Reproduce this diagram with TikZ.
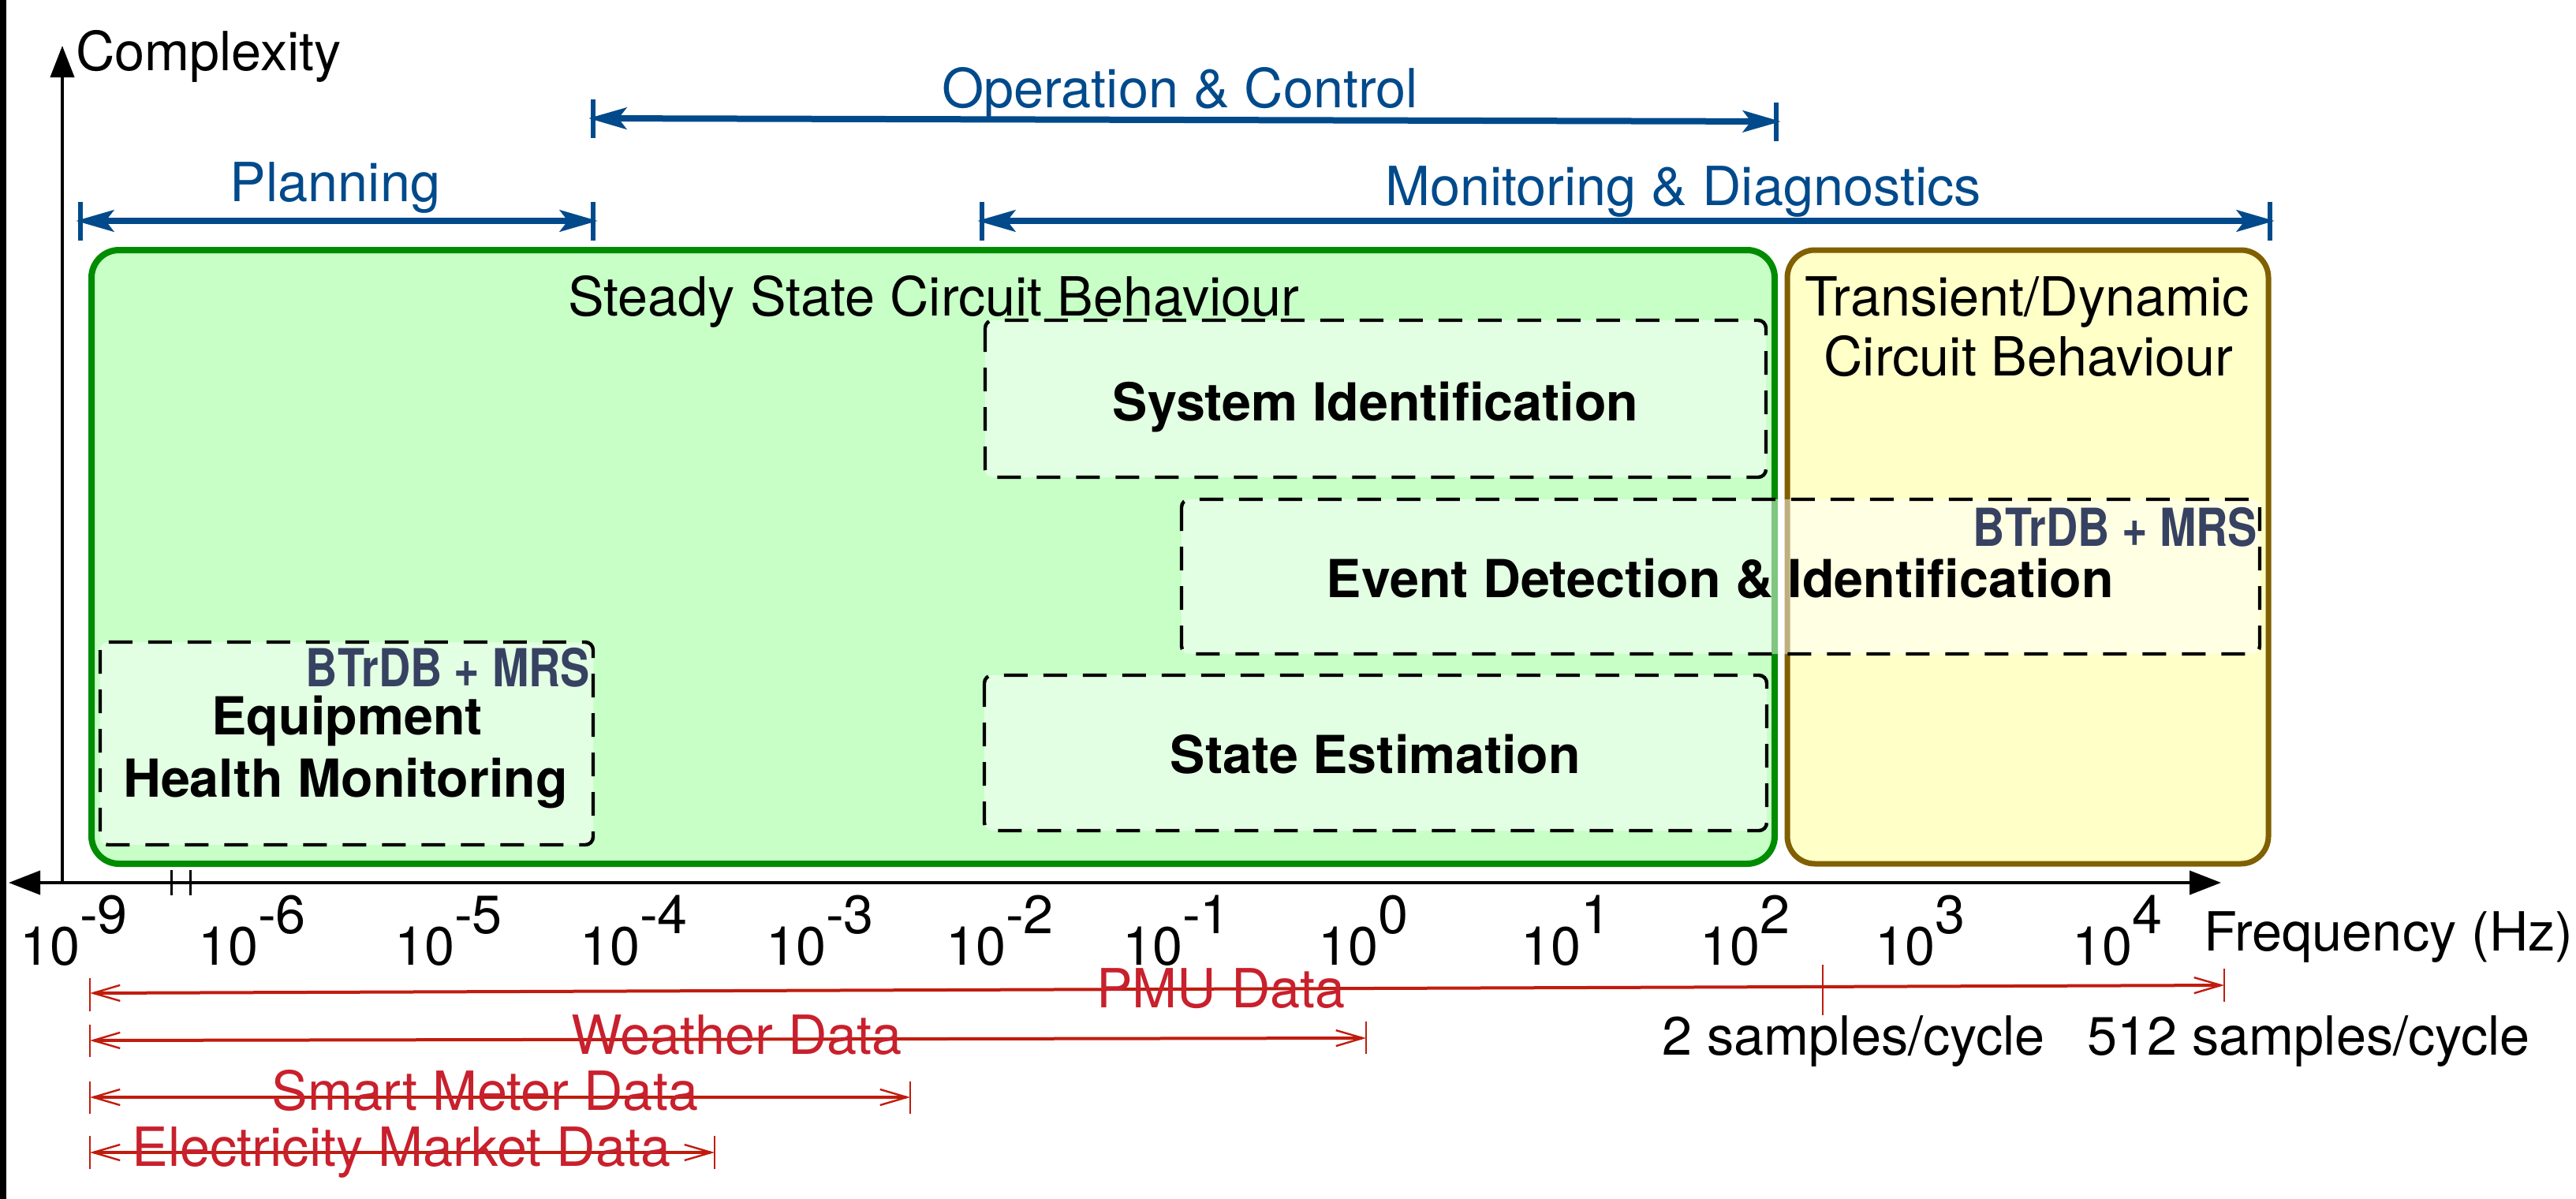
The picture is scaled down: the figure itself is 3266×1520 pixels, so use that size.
\documentclass[tikz,border=0pt]{standalone}
\usepackage{fontspec}
\setmainfont{TeX Gyre Heros}
\newfontfamily\condfont[FakeStretch=0.84]{TeX Gyre Heros}
\usetikzlibrary{arrows.meta}
\definecolor{ablue}{RGB}{0,74,139}
\definecolor{redline}{RGB}{192,28,14}
\definecolor{redtext}{RGB}{200,32,44}
\definecolor{gstroke}{RGB}{0,140,0}
\definecolor{gfill}{RGB}{199,255,199}
\definecolor{bstroke}{RGB}{128,96,0}
\definecolor{yfill}{RGB}{255,255,200}
\definecolor{btr}{RGB}{55,66,98}
\begin{document}
\begin{tikzpicture}[x=0.25pt,y=-0.25pt,
  every node/.style={inner sep=0pt,outer sep=0pt,font=\fontsize{17.1}{20}\selectfont},
  axisline/.style={black,line width=1pt},
  bluearr/.style={ablue,line width=2pt,{Stealth[length=12pt,width=6.75pt,inset=2.5pt]}-{Stealth[length=12pt,width=6.75pt,inset=2.5pt]}},
  bluebar/.style={ablue,line width=1.5pt},
  bluelbl/.style={anchor=base,text=ablue},
  redarr/.style={redline,line width=1pt,{Straight Barb[length=8.5pt,width=5pt,line width=0.6pt]}-{Straight Barb[length=8.5pt,width=5pt,line width=0.6pt]}},
  redbar/.style={redline,line width=0.6pt},
  redlbl/.style={anchor=base,text=redtext},
  gbox/.style={draw=gstroke,fill=gfill,line width=2pt,rounded corners=8.75pt},
  ybox/.style={draw=bstroke,fill=yfill,line width=1.75pt,rounded corners=8.75pt},
  dbox/.style={draw=black,line width=1.1pt,dash pattern=on 7.5pt off 5pt,rounded corners=2.5pt,fill=white,fill opacity=0.5},
  boldlbl/.style={anchor=base,font=\fontsize{16.6}{20}\selectfont\bfseries},
  btrlbl/.style={anchor=base east,text=btr,font=\fontsize{16.6}{20}\selectfont\condfont\bfseries},
  plainlbl/.style={anchor=base},
  ticklbl/.style={anchor=base west}
]
\useasboundingbox (0,0) rectangle (3266,1520);
\fill[black] (0,0) rectangle (8,1520);

% regions
\draw[gbox] (116,317) rectangle (2250,1095);
\draw[ybox] (2266,317) rectangle (2876,1095);
\node[plainlbl] (steady) at (1184,400) {Steady State Circuit Behaviour};
\node[plainlbl] (trans1) at (2570,400) {Transient/Dynamic};
\node[plainlbl] (trans2) at (2572,476) {Circuit Behaviour};

% dashed task boxes
\draw[dbox] (1249,406) rectangle (2239,605);
\draw[dbox] (1498,633) rectangle (2865,829);
\draw[dbox] (1248,856) rectangle (2240,1053);
\draw[dbox] (127,814) rectangle (752,1071);

\node[boldlbl] (sysid) at (1744,533) {System Identification};
\node[boldlbl] (event) at (2181,757) {Event Detection \& Identification};
\node[boldlbl] (state) at (1744,980) {State Estimation};
\node[boldlbl] (equip1) at (440,931) {Equipment};
\node[boldlbl] (equip2) at (438,1010) {Health Monitoring};
\node[btrlbl] (btr1) at (2862,692) {BTrDB + MRS};
\node[btrlbl] (btr2) at (748,870) {BTrDB + MRS};

% axes
\coordinate (yb) at (79,1119);
\coordinate (yt) at (79,58);
\coordinate (xl) at (11,1119);
\coordinate (xr) at (2816,1119);
\draw[axisline,-{Triangle[length=10pt,width=7.5pt]}] (yb) -- (yt);
\draw[axisline,{Triangle[length=10pt,width=7.5pt]}-{Triangle[length=10pt,width=7.5pt]}] (xl) -- (xr);
\draw[black,line width=0.75pt] (217,1103) -- (217,1135) (241,1103) -- (241,1135);
\node[anchor=base west] (cplx) at (96,89) {Complexity};
\node[anchor=base west] (freq) at (2794,1205) {Frequency (Hz)};

% tick labels
\node[ticklbl] (tm9) at (25,1223) {10\raisebox{10pt}{-9}};
\node[ticklbl] (tm6) at (251,1223) {10\raisebox{10pt}{-6}};
\node[ticklbl] (tm5) at (500,1223) {10\raisebox{10pt}{-5}};
\node[ticklbl] (tm4) at (735,1223) {10\raisebox{10pt}{-4}};
\node[ticklbl] (tm3) at (971,1223) {10\raisebox{10pt}{-3}};
\node[ticklbl] (tm2) at (1199,1223) {10\raisebox{10pt}{-2}};
\node[ticklbl] (tm1) at (1423,1223) {10\raisebox{10pt}{-1}};
\node[ticklbl] (t0) at (1671,1223) {10\raisebox{10pt}{0}};
\node[ticklbl] (t1) at (1928,1223) {10\raisebox{10pt}{1}};
\node[ticklbl] (t2) at (2155,1223) {10\raisebox{10pt}{2}};
\node[ticklbl] (t3) at (2377,1223) {10\raisebox{10pt}{3}};
\node[ticklbl] (t4) at (2627,1223) {10\raisebox{10pt}{4}};

% blue application ranges
\coordinate (planL) at (96,280);
\coordinate (planR) at (758,280);
\draw[bluearr] (planL) -- (planR);
\draw[bluebar] (102,256) -- (102,305) (752,256) -- (752,305);
\node[bluelbl] (plan) at (425,255) {Planning};

\coordinate (opL) at (746,150);
\coordinate (opR) at (2258,154);
\draw[bluearr] (opL) -- (opR);
\draw[bluebar] (752,126) -- (752,175) (2252,130) -- (2252,179);
\node[bluelbl] (oper) at (1496,136) {Operation \& Control};

\coordinate (monL) at (1239,280);
\coordinate (monR) at (2884,280);
\draw[bluearr] (monL) -- (monR);
\draw[bluebar] (1245,256) -- (1245,305) (2878,256) -- (2878,305);
\node[bluelbl] (moni) at (2134,260) {Monitoring \& Diagnostics};

% red data ranges
\coordinate (pmuL) at (114,1259);
\coordinate (pmuR) at (2820,1249);
\draw[redarr] (pmuL) -- (pmuR);
\draw[redbar] (114,1240) -- (114,1282) (2820,1228) -- (2820,1270) (2311,1223) -- (2311,1287);
\node[redlbl] (pmu) at (1548,1277) {PMU Data};
\node[anchor=base] (s2) at (2350,1337) {2 samples/cycle};
\node[anchor=base] (s512) at (2927,1337) {512 samples/cycle};

\coordinate (weaL) at (114,1319);
\coordinate (weaR) at (1732,1316);
\draw[redarr] (weaL) -- (weaR);
\draw[redbar] (114,1299) -- (114,1340) (1732,1295) -- (1732,1336);
\node[redlbl] (wea) at (934,1336) {Weather Data};

\coordinate (smL) at (114,1391);
\coordinate (smR) at (1154,1391);
\draw[redarr] (smL) -- (smR);
\draw[redbar] (114,1371) -- (114,1412) (1154,1371) -- (1154,1412);
\node[redlbl] (sm) at (615,1407) {Smart Meter Data};

\coordinate (elL) at (114,1461);
\coordinate (elR) at (906,1461);
\draw[redarr] (elL) -- (elR);
\draw[redbar] (114,1440) -- (114,1482) (906,1440) -- (906,1482);
\node[redlbl] (el) at (509,1478) {Electricity Market Data};
\end{tikzpicture}
\end{document}
